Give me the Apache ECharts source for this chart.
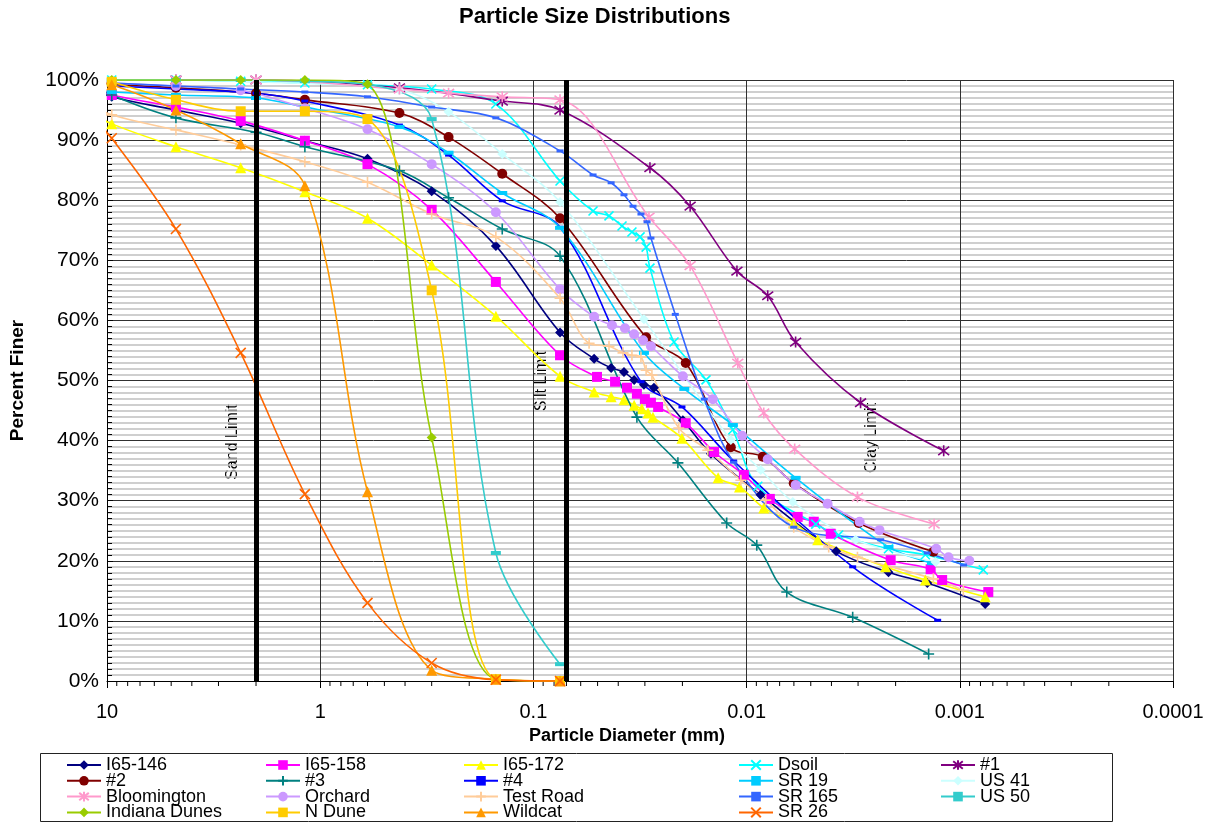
<!DOCTYPE html>
<html>
<head>
<meta charset="utf-8">
<script src="https://cdn.jsdelivr.net/npm/echarts@6/dist/echarts.min.js"></script>
<style>
  html, body { margin: 0; padding: 0; background: #fff; }
  #main { width: 1209px; height: 824px; }
</style>
</head>
<body>
<div id="main"></div>
<script>
var FONT = '"Liberation Sans", Arial, sans-serif';

// [diameter mm, percent finer]
var i65_146 = [[12.5,99],[9.5,97.2],[4.75,95.0],[2.36,92.8],[1.18,89.9],[0.6,86.9],[0.3,81.5],[0.15,72.4],[0.075,58.0],
  [0.0519,53.6],[0.0432,52.1],[0.0376,51.4],[0.0337,50.1],[0.0303,49.3],[0.0272,48.8],[0.0199,43.4],[0.0147,37.8],
  [0.0086,31.0],[0.0038,21.6],[0.00216,18.1],[0.00142,16.3],[0.00076,12.8]];
var i65_158 = [[12.5,99],[9.5,97.5],[4.75,95.5],[2.36,93.2],[1.18,89.9],[0.6,86.0],[0.3,78.4],[0.15,66.4],[0.075,54.2],
  [0.0503,50.6],[0.0414,49.8],[0.0364,48.8],[0.0327,47.8],[0.0300,46.9],[0.0281,46.3],[0.0260,45.6],[0.0193,42.9],
  [0.0142,38.1],[0.0103,34.3],[0.00778,30.3],[0.00576,27.3],[0.00484,26.5],[0.00403,24.5],[0.00211,20.1],
  [0.00137,18.6],[0.00121,16.8],[0.000735,14.8]];
var i65_172 = [[12.5,95],[9.5,92.7],[4.75,88.9],[2.36,85.4],[1.18,81.4],[0.6,77.0],[0.3,69.2],[0.15,60.7],[0.075,50.7],
  [0.0519,48.1],[0.0432,47.3],[0.0376,46.8],[0.0337,45.9],[0.0310,45.3],[0.0290,44.6],[0.0275,43.9],[0.0201,40.4],
  [0.0136,33.8],[0.0108,32.3],[0.00831,28.8],[0.00601,26.3],[0.00464,23.5],[0.00223,19.0],[0.00145,16.8],[0.00076,14.0]];
var dsoil = [[9.5,100],[4.75,100],[2.36,99.8],[1.18,99.5],[0.6,99.2],[0.3,98.5],[0.15,96.0],[0.075,83.2],
  [0.0525,78.2],[0.0442,77.4],[0.0384,75.7],[0.0345,74.7],[0.0316,73.9],[0.0296,72.2],[0.0284,68.7],[0.0219,56.4],
  [0.0155,50.1],[0.0116,41.8],[0.00886,32.4],[0.00474,26.1],[0.0037,24.3],[0.00216,22.0],[0.00145,21.0],[0.000776,18.5]];
var no1 = [[4.75,100],[2.0,100],[0.425,98.7],[0.14,96.5],[0.075,95.0],[0.0284,85.4],[0.0184,79.0],[0.0111,68.2],
  [0.00796,64.1],[0.00589,56.4],[0.00292,46.3],[0.00119,38.3]];
var no2 = [[9.5,99.3],[4.75,98.7],[2.0,97.8],[1.18,96.7],[0.425,94.5],[0.25,90.5],[0.14,84.4],[0.075,77.0],
  [0.0296,57.2],[0.0193,52.9],[0.01186,38.9],[0.0084,37.3],[0.00601,32.9],[0.00298,26.3],[0.00133,21.5]];
var no3 = [[12.5,100],[9.5,97.5],[4.75,93.7],[2.0,91.3],[1.18,88.9],[0.425,84.9],[0.25,80.4],[0.14,75.2],[0.075,70.7],
  [0.0327,43.9],[0.0210,36.3],[0.0124,26.3],[0.00896,22.6],[0.00648,14.8],[0.00318,10.6],[0.0014,4.5]];
var no4 = [[9.5,99.0],[4.75,98.5],[2.0,97.8],[1.18,96.5],[0.425,92.5],[0.25,87.5],[0.14,79.9],[0.075,75.5],
  [0.0313,49.8],[0.0201,45.6],[0.0115,36.6],[0.00318,19.0],[0.00127,10.1]];
var sr19 = [[9.5,98.0],[4.75,97.5],[2.0,97.0],[1.18,95.5],[0.425,92.2],[0.25,87.9],[0.14,81.2],[0.075,75.4],
  [0.0303,54.6],[0.0196,48.6],[0.0116,42.6],[0.00589,33.8],[0.00216,22.3],[0.00135,19.6]];
var us41 = [[9.5,100],[4.75,100],[2.0,99.7],[0.425,98.3],[0.25,94.7],[0.14,87.7],[0.075,79.7],[0.0303,60.2],
  [0.01186,40.1],[0.00858,35.1],[0.00607,29.8],[0.00308,23.5],[0.0013,19.8]];
var bloomington = [[4.75,100],[2.0,100],[0.425,98.5],[0.25,97.8],[0.14,97.2],[0.075,96.7],[0.0287,77.2],[0.0184,69.1],
  [0.0110,52.9],[0.00831,44.6],[0.00595,38.6],[0.00302,30.6],[0.00132,26.1]];
var orchard = [[12.5,100],[9.5,99.5],[4.75,99.0],[2.36,98.3],[1.18,95.3],[0.6,91.8],[0.3,86.0],[0.15,78.0],[0.075,65.2],
  [0.0519,60.6],[0.0428,59.2],[0.0372,58.7],[0.0337,57.7],[0.0306,56.7],[0.0281,55.7],[0.0199,50.7],[0.0144,46.9],
  [0.0105,40.8],[0.00796,36.9],[0.00589,32.6],[0.00417,29.5],[0.00295,26.5],[0.00238,25.1],[0.00129,22.0],
  [0.00113,20.6],[0.000902,20.0]];
var testRoad = [[12.5,96.5],[9.5,94.2],[4.75,91.7],[2.36,89.2],[1.18,86.4],[0.6,83.0],[0.3,77.7],[0.15,73.9],[0.075,63.7],
  [0.0548,56.2],[0.0442,55.7],[0.0380,54.6],[0.0345,54.2],[0.0313,53.9],[0.0296,51.7],[0.0278,50.9],[0.0208,42.1],
  [0.0152,38.4],[0.01064,33.4],[0.00813,30.1],[0.00601,25.6],[0.00412,22.3],[0.00302,20.6],[0.00133,17.0],[0.000962,15.1]];
var sr165 = [[9.5,99.5],[4.75,99.0],[2.36,98.5],[1.18,98.0],[0.6,97.2],[0.3,95.5],[0.15,93.7],[0.075,88.2],
  [0.0525,84.2],[0.0432,82.9],[0.0376,80.9],[0.0341,79.0],[0.0313,77.7],[0.0293,76.4],[0.0281,73.7],[0.0216,61.0],
  [0.0158,46.9],[0.0115,36.4],[0.00601,25.6],[0.00235,23.5],[0.00142,21.3],[0.00096,19.3]];
var us50 = [[9.5,100],[4.75,100],[2.36,100],[1.18,99.8],[0.6,99.3],[0.3,93.5],[0.15,21.3],[0.075,2.8]];
var indianaDunes = [[9.5,100],[4.75,100],[2.36,100],[1.18,100],[0.6,99.3],[0.3,40.5],[0.15,0.3],[0.075,0]];
var nDune = [[9.5,99.7],[4.75,96.7],[2.36,94.8],[1.18,94.8],[0.6,93.5],[0.3,65.0],[0.15,0.3],[0.075,0]];
var wildcat = [[12.5,100],[9.5,99.2],[4.75,95.0],[2.36,89.4],[1.18,82.4],[0.6,31.5],[0.3,1.8],[0.15,0.3],[0.075,0]];
var sr26 = [[12.5,95],[9.5,90.3],[4.75,75.2],[2.36,54.6],[1.18,31.1],[0.6,13.0],[0.3,3.0],[0.15,0.2],[0.075,0]];

// soil limits (mm)
var limits = [2.0, 0.075, 0.002];
var limitNames = ['Sand Limit', 'Silt Limit', 'Clay Limit'];

var X_MARK = 'path://M0,0L10,10M10,0L0,10';
var ASTER = 'path://M0,0L10,10M10,0L0,10M5,-1.5L5,11.5';
var PLUS = 'path://M5,0L5,10M0,5L10,5';

function mk(name, data, color, symbol, size, stroked) {
  return {
    name: name, type: 'line', data: data, smooth: 0.35,
    symbol: symbol, symbolSize: size,
    lineStyle: { color: color, width: 1.6 },
    itemStyle: stroked ? { color: color, borderColor: color, borderWidth: 1.6 } : { color: color },
    clip: true
  };
}

var series = [
  mk('I65-146', i65_146, '#000080', 'diamond', 10),
  mk('I65-158', i65_158, '#FF00FF', 'rect', 10),
  mk('I65-172', i65_172, '#FFFF00', 'triangle', 11),
  mk('Dsoil', dsoil, '#00FFFF', X_MARK, 9, true),
  mk('#1', no1, '#800080', ASTER, 11, true),
  mk('#2', no2, '#800000', 'circle', 10),
  mk('#3', no3, '#008080', PLUS, 11, true),
  mk('#4', no4, '#0000FF', 'rect', [7, 3]),
  mk('SR 19', sr19, '#00CCFF', 'rect', [10, 4]),
  mk('US 41', us41, '#CCFFFF', 'diamond', 10),
  mk('Bloomington', bloomington, '#FF99CC', ASTER, 11, true),
  mk('Orchard', orchard, '#CC99FF', 'circle', 10),
  mk('Test Road', testRoad, '#FFCC99', PLUS, 11, true),
  mk('SR 165', sr165, '#3366FF', 'rect', [7, 3]),
  mk('US 50', us50, '#33CCCC', 'rect', [10, 4]),
  mk('Indiana Dunes', indianaDunes, '#99CC00', 'diamond', 10),
  mk('N Dune', nDune, '#FFCC00', 'rect', 10),
  mk('Wildcat', wildcat, '#FF9900', 'triangle', 11),
  mk('SR 26', sr26, '#FF6600', X_MARK, 10, true)
];

// minor ticks 2..9 in each decade of the log axis
var minorTicks = [];
[1, 0.1, 0.01, 0.001, 0.0001].forEach(function (d) {
  [2, 3, 4, 5, 6, 7, 8, 9].forEach(function (m) { minorTicks.push([+(m * d).toPrecision(2), 0]); });
});

series.unshift({
  name: 'limits', type: 'line', data: [], z: 1, silent: true,
  markLine: {
    silent: true, symbol: ['none', 'none'], animation: false,
    label: { show: false },
    lineStyle: { color: '#000', width: 5, type: 'solid' },
    data: limits.map(function (v) { return { xAxis: v }; })
  }
});
series.push({
  name: 'minorTicks', type: 'custom', data: minorTicks, silent: true, z: 3,
  renderItem: function (params, api) {
    var p = api.coord([api.value(0), 0]);
    return { type: 'line', shape: { x1: p[0], y1: p[1], x2: p[0], y2: p[1] + 5 },
      style: { stroke: '#000', lineWidth: 1 } };
  }
});

var legendCols = [
  ['I65-146', '#2', 'Bloomington', 'Indiana Dunes'],
  ['I65-158', '#3', 'Orchard', 'N Dune'],
  ['I65-172', '#4', 'Test Road', 'Wildcat'],
  ['Dsoil', 'SR 19', 'SR 165', 'SR 26'],
  ['#1', 'US 41', 'US 50']
];
var legendLeft = [66, 265, 463, 738, 940];

var chart = echarts.init(document.getElementById('main'));
chart.setOption({
  animation: false,
  backgroundColor: '#fff',
  title: {
    text: 'Particle Size Distributions', left: 459, top: 6, padding: 0,
    textStyle: { fontFamily: FONT, fontSize: 22, fontWeight: 'bold', color: '#000' }
  },
  grid: { left: 105, right: 36, top: 80, bottom: 143, containLabel: false },
  xAxis: {
    type: 'log', logBase: 10, min: 0.0001, max: 10, inverse: true, splitNumber: 5,
    axisLine: { show: true, lineStyle: { color: '#000', width: 1 } },
    axisTick: { show: true, length: 7, lineStyle: { color: '#000' } },
    axisLabel: { fontFamily: FONT, fontSize: 20, color: '#000', margin: 21,
      formatter: function (v) { return String(+(+v).toPrecision(1)); } },
    splitLine: { show: true, lineStyle: { color: '#303030', width: 1 } },
    name: 'Particle Diameter (mm)', nameLocation: 'middle', nameGap: 41,
    nameTextStyle: { fontFamily: FONT, fontSize: 18, fontWeight: 'bold', color: '#000', padding: [0, 26, 0, 0] }
  },
  yAxis: {
    type: 'value', min: 0, max: 100, interval: 10,
    axisLine: { show: true, lineStyle: { color: '#000' } },
    axisTick: { show: true, inside: true, length: 6, lineStyle: { color: '#000' } },
    minorTick: { show: true, splitNumber: 10, length: 5, lineStyle: { color: '#000' } },
    axisLabel: { fontFamily: FONT, fontSize: 21, color: '#000', margin: 8, formatter: '{value}%' },
    splitLine: { show: true, lineStyle: { color: '#303030', width: 1 } },
    minorSplitLine: { show: true, lineStyle: { color: '#c0c0c0', width: 1.5 } },
    name: 'Percent Finer', nameLocation: 'middle', nameGap: 80,
    nameTextStyle: { fontFamily: FONT, fontSize: 19, fontWeight: 'bold', color: '#000' }
  },
  legend: legendCols.map(function (d, i) {
    return {
      data: d, orient: 'vertical', left: legendLeft[i], top: 756, height: 90,
      itemWidth: 34, itemHeight: 12, itemGap: -2.2, selectedMode: false, padding: 0,
      textStyle: { fontFamily: FONT, fontSize: 18, color: '#000' }
    };
  }),
  graphic: [
    { type: 'rect', shape: { x: 40.5, y: 753.5, width: 1072, height: 68 },
      style: { fill: 'none', stroke: '#222', lineWidth: 1 } },
    { type: 'text', x: 233, y: 442, rotation: Math.PI / 2,
      style: { text: limitNames[0], font: '16px ' + FONT, fill: '#000', align: 'center', verticalAlign: 'middle' } },
    { type: 'text', x: 542, y: 381, rotation: Math.PI / 2,
      style: { text: limitNames[1], font: '16px ' + FONT, fill: '#000', align: 'center', verticalAlign: 'middle' } },
    { type: 'text', x: 872, y: 438, rotation: Math.PI / 2,
      style: { text: limitNames[2], font: '16px ' + FONT, fill: '#000', align: 'center', verticalAlign: 'middle' } }
  ],
  series: series
});
</script>
</body>
</html>
